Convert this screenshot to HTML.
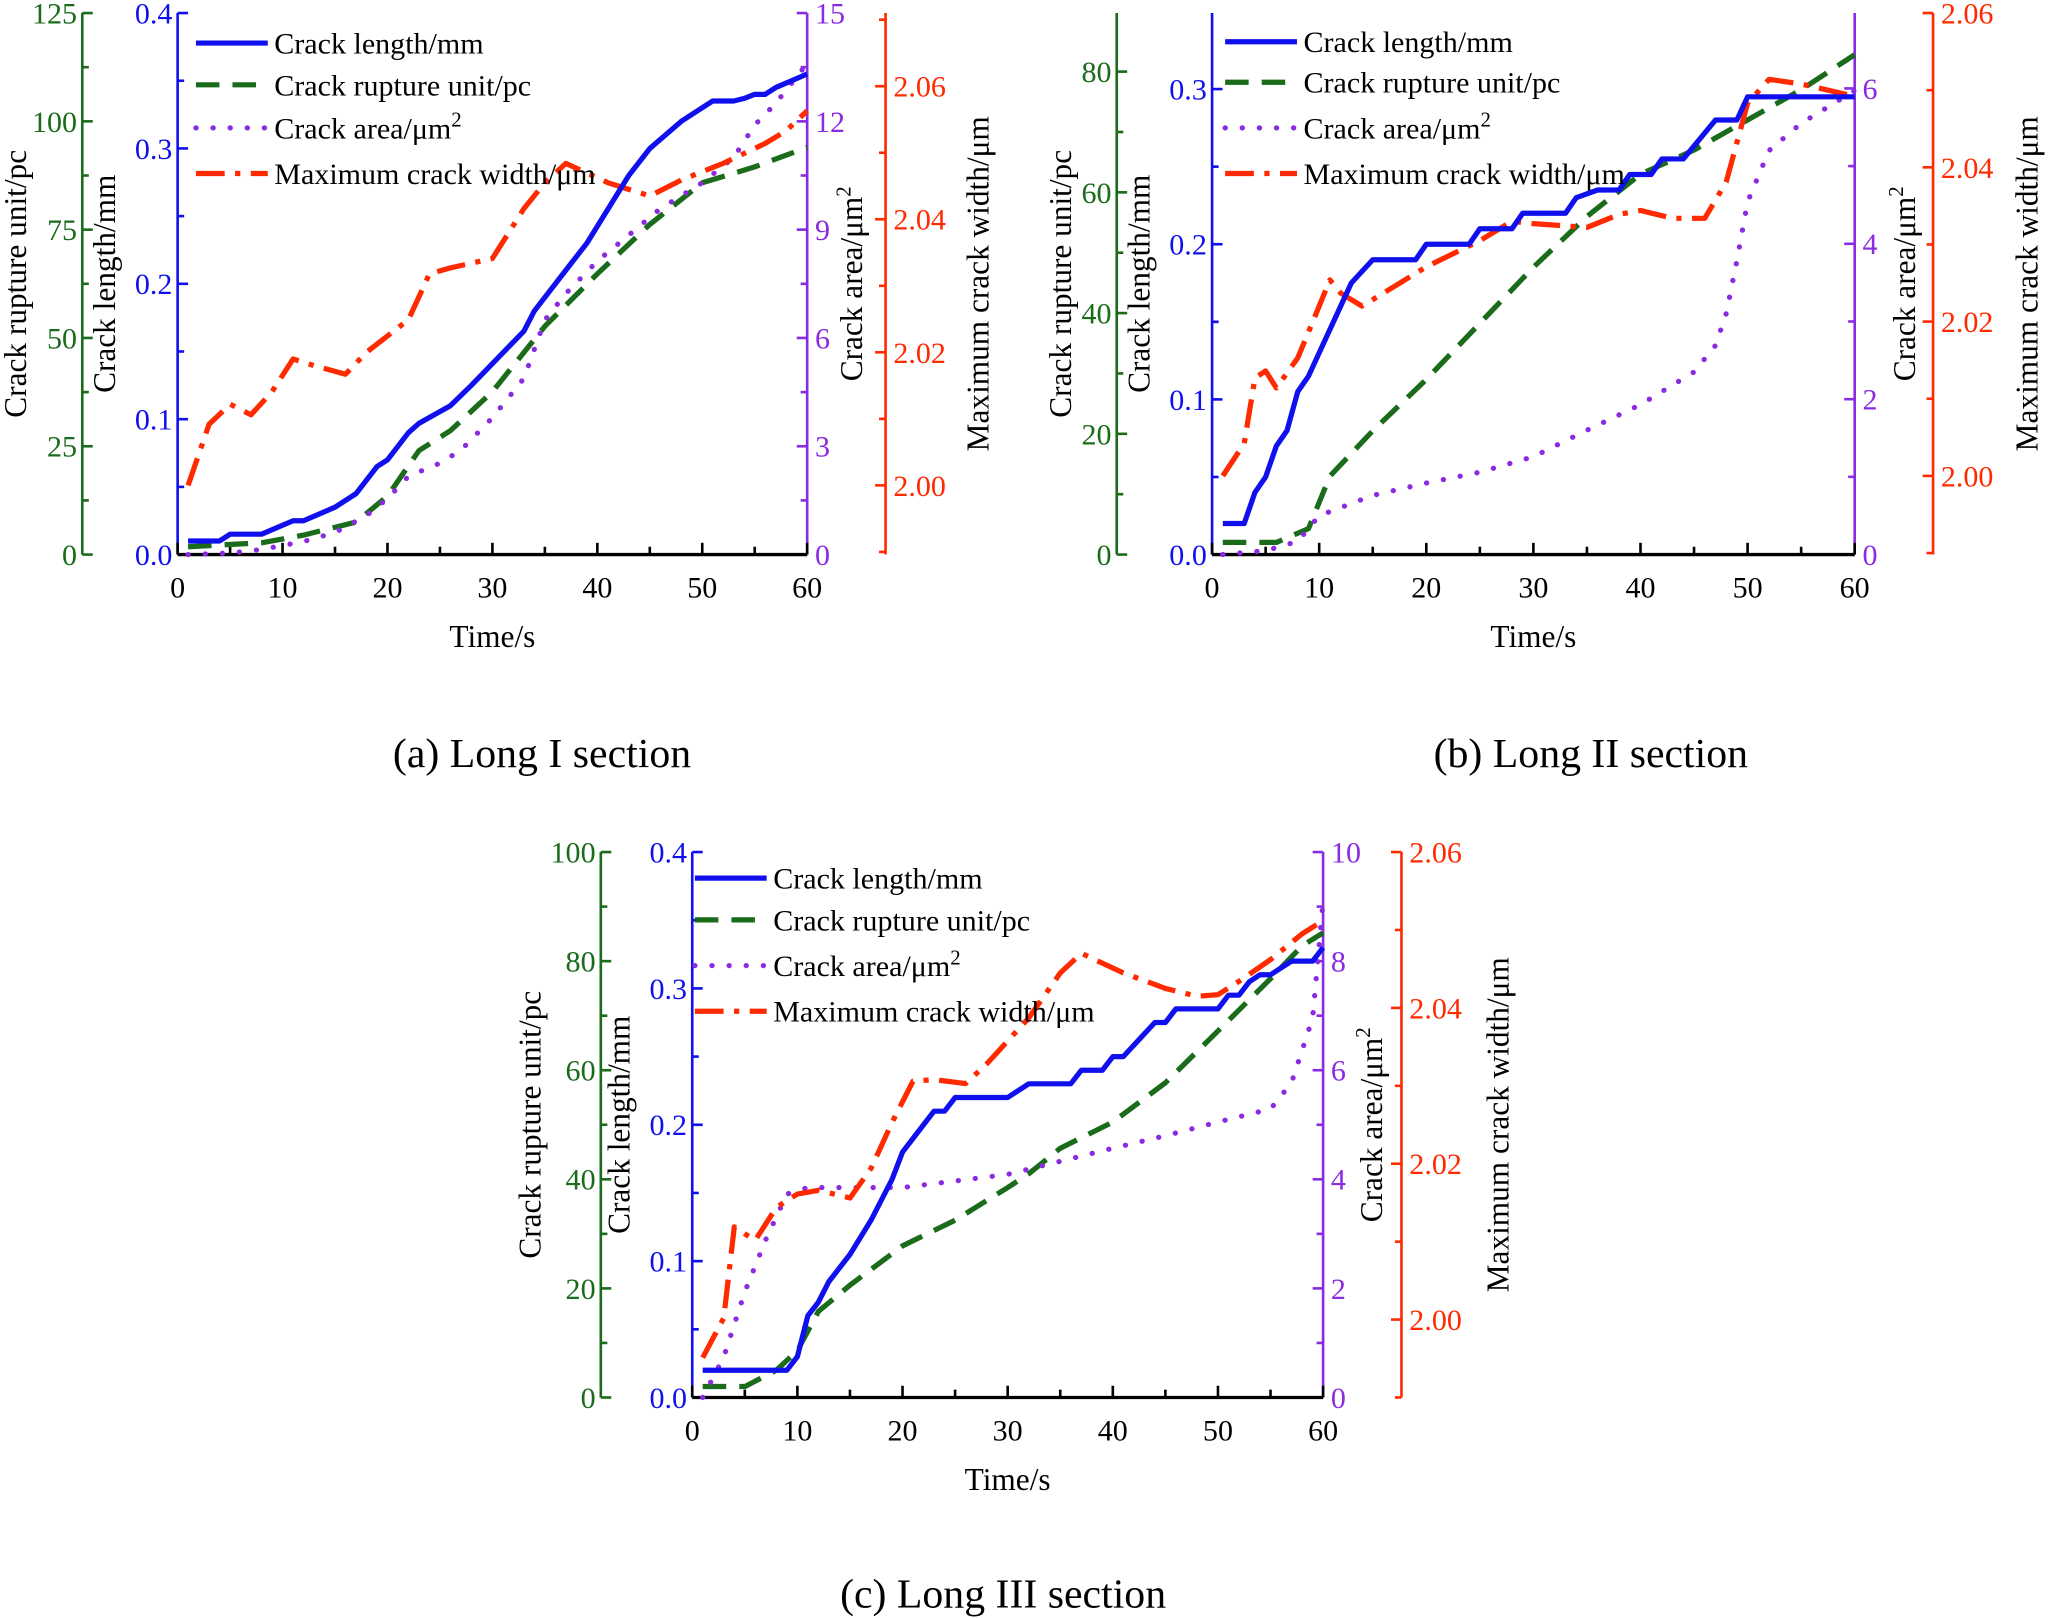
<!DOCTYPE html>
<html><head><meta charset="utf-8"><style>
html,body{margin:0;padding:0;background:#fff}
svg{display:block}
text{font-family:"Liberation Serif",serif}
</style></head><body>
<svg id="fig" width="2048" height="1618" viewBox="0 0 1568 1240" preserveAspectRatio="none"></svg>
<script>
// ---- data (time in s) ----
const aLenT=[1,4,5,8,11,12,15,17,19,20,22,23,26,28,33,34,37,39,41,43,45,48,51,53,54,55,56,57,60];
const aLenV=[0.01,0.01,0.015,0.015,0.025,0.025,0.035,0.045,0.065,0.07,0.09,0.097,0.11,0.125,0.165,0.18,0.21,0.23,0.255,0.28,0.3,0.32,0.335,0.335,0.337,0.34,0.34,0.345,0.355];
const aRupT=[1,8,12,17,20,23,26,30,35,40,45,50,55,60];
const aRupV=[1.8,2.7,4.5,7.5,13.5,24,28.6,37.6,52.7,64.8,76.2,85.8,89.5,94];
const aAreaT=[1,5,8,12,15,18,20,22,25,27,30,33,35,37,40,43,46,48,50,53,55,57,60];
const aAreaV=[0,0.04,0.14,0.36,0.61,1.08,1.55,2.17,2.53,2.89,3.79,4.88,6.5,7.23,8.13,8.85,9.58,9.94,10.3,11.0,11.9,12.5,13.6];
const aWidT=[1,3,5,7,9,11,13,16,18,22,24,26,30,33,35,37,41,43,45,48,52,56,58,60];
const aWidV=[2.000,2.0092,2.0122,2.0106,2.0141,2.019,2.018,2.0167,2.020,2.0249,2.0318,2.0327,2.0341,2.0416,2.0455,2.0484,2.0455,2.0445,2.0435,2.0459,2.0484,2.0514,2.0533,2.0563];

const bLenT=[1,3,4,5,6,7,8,9,10,12,13,15,19,20,24,25,28,29,33,34,36,38,39,41,42,44,47,49,50,60];
const bLenV=[0.02,0.02,0.04,0.05,0.07,0.08,0.105,0.115,0.13,0.16,0.175,0.19,0.19,0.2,0.2,0.21,0.21,0.22,0.22,0.23,0.235,0.235,0.245,0.245,0.255,0.255,0.28,0.28,0.295,0.295];
const bRupT=[1,6,9,11,15,20,30,35,40,45,50,55,60];
const bRupV=[2,2,4.3,13,20.5,29,47.6,56,63,67,72,77,82.8];
const bAreaT=[1,5,8,10,15,20,25,30,35,40,45,47,48,49,50,52,55,60];
const bAreaV=[0,0.05,0.17,0.5,0.76,0.92,1.06,1.26,1.6,1.93,2.35,2.69,3.1,3.78,4.54,5.2,5.55,5.97];
const bWidT=[1,3,4,5,6,8,10,11,12,14,16,20,25,28,30,35,38,40,43,46,48,49,50,52,55,60];
const bWidV=[2.000,2.0042,2.0127,2.0136,2.0114,2.0153,2.022,2.0254,2.0237,2.022,2.0237,2.0271,2.0305,2.033,2.0327,2.0322,2.0339,2.0344,2.0334,2.0334,2.0381,2.0432,2.0483,2.0514,2.0508,2.0492];

const cLenT=[1,9,10,11,12,13,15,17,19,20,22,23,24,25,30,32,36,37,39,40,41,44,45,46,50,51,52,53,54,55,56,57,59,60];
const cLenV=[0.02,0.02,0.03,0.06,0.07,0.085,0.105,0.13,0.16,0.18,0.2,0.21,0.21,0.22,0.22,0.23,0.23,0.24,0.24,0.25,0.25,0.275,0.275,0.285,0.285,0.295,0.295,0.305,0.31,0.31,0.315,0.32,0.32,0.33];
const cRupT=[1,5,8,10,12,15,20,25,30,32,35,40,45,50,55,58,60];
const cRupV=[2,2,5,8.6,15.8,20.6,27.8,32.5,38.5,41,45.7,50.5,57.7,67.2,76.8,82.8,85.2];
const cAreaT=[1,3,5,7,9,11,15,20,25,30,35,40,45,50,55,57,59,60];
const cAreaV=[0,0.74,1.94,2.9,3.73,3.85,3.85,3.85,3.97,4.09,4.33,4.57,4.8,5.05,5.29,5.77,6.96,9.1];
const cWidT=[1,3,4,5,6,8,10,12,15,17,19,21,23,26,28,32,35,37,41,45,48,50,52,55,58,60];
const cWidV=[1.9951,2.0002,2.0119,2.011,2.0102,2.0144,2.0161,2.0166,2.0156,2.0194,2.0253,2.0306,2.0308,2.0303,2.0328,2.0387,2.0445,2.047,2.0445,2.0425,2.0415,2.0417,2.0434,2.0462,2.0495,2.0512];

const xTicks=[0,10,20,30,40,50,60];
const aGreenTicks=[0,25,50,75,100,125], aBlueTicks=[0,0.1,0.2,0.3,0.4], aPurpleTicks=[0,3,6,9,12,15], aRedTicks=[2.00,2.02,2.04,2.06];
const bGreenTicks=[0,20,40,60,80], bBlueTicks=[0,0.1,0.2,0.3], bPurpleTicks=[0,2,4,6], bRedTicks=[2.00,2.02,2.04,2.06];
const cGreenTicks=[0,20,40,60,80,100], cBlueTicks=[0,0.1,0.2,0.3,0.4], cPurpleTicks=[0,2,4,6,8,10], cRedTicks=[2.00,2.02,2.04,2.06];

const NS="http://www.w3.org/2000/svg";
const svg=document.getElementById('fig');
function mk(tag,attrs,parent,txt){const e=document.createElementNS(NS,tag);for(const k in attrs)e.setAttribute(k,attrs[k]);if(txt!==undefined)e.textContent=txt;(parent||svg).appendChild(e);return e;}

const GREEN="#1a6b1a",BLUE="#1010ee",PURPLE="#8a2be2",RED="#ff2a00";

function panel(id,g){
  const grp=mk('g',{});
  
  
  const X=t=>g.x0+(t-0)/60*(g.x1-g.x0);
  const Yf=(min,max)=>v=>g.yb-(v-min)/(max-min)*(g.yb-g.yt);
  g.axes.forEach(ax=>{
    const Y=Yf(ax.min,ax.max);
    const ag=mk('g',{},grp);
    
    
    mk('line',{x1:ax.x,x2:ax.x,y1:g.yb,y2:g.yt,stroke:ax.color,'stroke-width':2},ag);
    const dir=ax.side==='left'?1:-1;
    const step=ax.ticks[1]-ax.ticks[0];
    for(let v=ax.min- (ax.min%(step/2)); v<=ax.max+1e-9; v+=step/2){
      if(v<ax.min-1e-9) continue;
      const y=Y(v);
      const major=ax.ticks.some(t=>Math.abs(t-v)<1e-9);
      mk('line',{x1:ax.x,x2:ax.x+dir*(major?8:5),y1:y,y2:y,stroke:ax.color,'stroke-width':2},ag);
    }
    ax.ticks.forEach(v=>{
      const y=Y(v);
      const t=mk('text',{x:ax.side==='left'?ax.x-4:ax.x+6,y:y+8,'font-size':23,fill:ax.color,'text-anchor':ax.side==='left'?'end':'start'},ag,ax.fmt(v));
      
      
    });
    const tt=mk('text',{transform:`translate(${ax.tx},${(g.yb+g.yt)/2}) rotate(-90)`,'font-size':24,fill:'#000','text-anchor':'middle'},ag);
    
    
    if(ax.title2){tt.textContent=ax.title;mk('tspan',{dy:-9,'font-size':16},tt,'2');}
    else tt.textContent=ax.title;
  });
  const xg=mk('g',{},grp);
  
  
  mk('line',{x1:g.x0,x2:g.x1,y1:g.yb,y2:g.yb,stroke:'#000','stroke-width':2.5},xg);
  for(let t=0;t<=60;t+=5){const x=X(t);mk('line',{x1:x,x2:x,y1:g.yb,y2:g.yb-(t%10===0?9:6),stroke:'#000','stroke-width':2},xg);}
  xTicks.forEach(t=>{const e=mk('text',{x:X(t),y:g.yb+33,'font-size':23,'text-anchor':'middle'},xg,String(t));
    });
  const xt=mk('text',{x:(g.x0+g.x1)/2,y:g.yb+71,'font-size':24,'text-anchor':'middle'},xg,'Time/s');
  
  const styles={len:{c:BLUE,d:'none'},rup:{c:GREEN,d:'18 10'},area:{c:PURPLE,d:'0.1 13'},wid:{c:RED,d:'22 8 4 8'}};
  g.series.forEach(s=>{
    const ax=g.axes.find(a=>a.name===s.axis);
    const Y=Yf(ax.min,ax.max);
    const pts=s.t.map((t,i)=>X(t).toFixed(1)+','+Y(s.v[i]).toFixed(1)).join(' ');
    const st=styles[s.key];
    const p=mk('polyline',{points:pts,fill:'none',stroke:st.c,'stroke-width':4,'stroke-dasharray':st.d,'stroke-linecap':s.key==='area'?'round':'butt','stroke-linejoin':'round'},grp);
    
    
  });
  const lg=mk('g',{},grp);
  
  
  const labels=[['len','Crack length/mm'],['rup','Crack rupture unit/pc'],['area','Crack area/μm'],['wid','Maximum crack width/μm']];
  labels.forEach((l,i)=>{
    const y=g.legY[i];const st=styles[l[0]];
    const e=mk('g',{},lg);
    
    
    mk('line',{x1:g.legX,x2:g.legX+55,y1:y,y2:y,stroke:st.c,'stroke-width':4,'stroke-dasharray':st.d,'stroke-linecap':l[0]==='area'?'round':'butt'},e);
    const t=mk('text',{x:g.legX+60,y:y+8,'font-size':23},e,l[1]);
    if(l[0]==='area') mk('tspan',{dy:-9,'font-size':16},t,'2');
  });
  const cap=mk('text',{x:g.capX,y:g.capY,'font-size':32,'text-anchor':'middle'},grp,g.cap);
  
  
}
const f0=v=>String(Math.round(v)), f1=v=>v.toFixed(1), f2=v=>v.toFixed(2);

panel('a',{x0:136,x1:618,yb:425,yt:10,legX:150,legY:[33,65,98,133],capX:415,capY:588,cap:'(a) Long I section',
 axes:[
  {name:'rupture-unit',x:63,side:'left',min:0,max:125,ticks:aGreenTicks,color:GREEN,fmt:f0,tx:20,title:'Crack rupture unit/pc'},
  {name:'crack-length',x:136,side:'left',min:0,max:0.4,ticks:aBlueTicks,color:BLUE,fmt:f1,tx:88,title:'Crack length/mm'},
  {name:'crack-area',x:618,side:'right',min:0,max:15,ticks:aPurpleTicks,color:PURPLE,fmt:f0,tx:660,title:'Crack area/μm',title2:true},
  {name:'crack-width',x:678,side:'right',min:1.9896,max:2.071,ticks:aRedTicks,color:RED,fmt:f2,tx:757,title:'Maximum crack width/μm'}],
 series:[{key:'rup',axis:'rupture-unit',t:aRupT,v:aRupV,name:'rupture-line'},{key:'area',axis:'crack-area',t:aAreaT,v:aAreaV,name:'area-line'},
  {key:'wid',axis:'crack-width',t:aWidT,v:aWidV,name:'width-line'},{key:'len',axis:'crack-length',t:aLenT,v:aLenV,name:'length-line'}]});

panel('b',{x0:928,x1:1420,yb:425,yt:10,legX:938,legY:[32,63,98,133],capX:1218,capY:588,cap:'(b) Long II section',
 axes:[
  {name:'rupture-unit',x:855,side:'left',min:0,max:89.7,ticks:bGreenTicks,color:GREEN,fmt:f0,tx:820,title:'Crack rupture unit/pc'},
  {name:'crack-length',x:928,side:'left',min:0,max:0.349,ticks:bBlueTicks,color:BLUE,fmt:f1,tx:880,title:'Crack length/mm'},
  {name:'crack-area',x:1420,side:'right',min:0,max:6.97,ticks:bPurpleTicks,color:PURPLE,fmt:f0,tx:1466,title:'Crack area/μm',title2:true},
  {name:'crack-width',x:1480,side:'right',min:1.9898,max:2.06,ticks:bRedTicks,color:RED,fmt:f2,tx:1560,title:'Maximum crack width/μm'}],
 series:[{key:'rup',axis:'rupture-unit',t:bRupT,v:bRupV,name:'rupture-line'},{key:'area',axis:'crack-area',t:bAreaT,v:bAreaV,name:'area-line'},
  {key:'wid',axis:'crack-width',t:bWidT,v:bWidV,name:'width-line'},{key:'len',axis:'crack-length',t:bLenT,v:bLenV,name:'length-line'}]});

panel('c',{x0:530,x1:1013,yb:1071,yt:653,legX:532,legY:[673,705,740,775],capX:768,capY:1232,cap:'(c) Long III section',
 axes:[
  {name:'rupture-unit',x:460,side:'left',min:0,max:100,ticks:cGreenTicks,color:GREEN,fmt:f0,tx:414,title:'Crack rupture unit/pc'},
  {name:'crack-length',x:530,side:'left',min:0,max:0.4,ticks:cBlueTicks,color:BLUE,fmt:f1,tx:482,title:'Crack length/mm'},
  {name:'crack-area',x:1013,side:'right',min:0,max:10,ticks:cPurpleTicks,color:PURPLE,fmt:f0,tx:1058,title:'Crack area/μm',title2:true},
  {name:'crack-width',x:1073,side:'right',min:1.99,max:2.06,ticks:cRedTicks,color:RED,fmt:f2,tx:1155,title:'Maximum crack width/μm'}],
 series:[{key:'rup',axis:'rupture-unit',t:cRupT,v:cRupV,name:'rupture-line'},{key:'area',axis:'crack-area',t:cAreaT,v:cAreaV,name:'area-line'},
  {key:'wid',axis:'crack-width',t:cWidT,v:cWidV,name:'width-line'},{key:'len',axis:'crack-length',t:cLenT,v:cLenV,name:'length-line'}]});
</script>
</body></html>
